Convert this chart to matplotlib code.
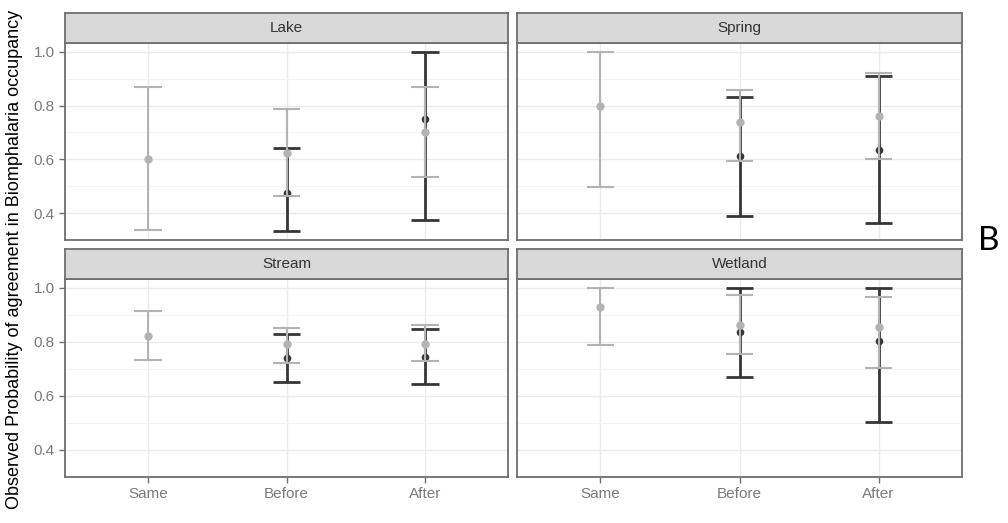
import numpy as np
import matplotlib.pyplot as plt

plt.rcParams['font.family'] = ['Liberation Sans', 'DejaVu Sans']

# Data
habitats = ['Lake', 'Spring', 'Stream', 'Wetland']
timing = ['Same', 'Before', 'After']

# light series: mean, lower, upper per timing
light_mean = {'Lake': [0.602, 0.623, 0.700], 'Spring': [0.800, 0.739, 0.762],
              'Stream': [0.822, 0.794, 0.794], 'Wetland': [0.931, 0.863, 0.855]}
light_lo = {'Lake': [0.338, 0.462, 0.534], 'Spring': [0.499, 0.595, 0.602],
            'Stream': [0.733, 0.723, 0.730], 'Wetland': [0.787, 0.754, 0.705]}
light_hi = {'Lake': [0.868, 0.787, 0.868], 'Spring': [1.000, 0.858, 0.923],
            'Stream': [0.915, 0.852, 0.863], 'Wetland': [1.000, 0.975, 0.965]}

# dark series: no estimate for "Same"
dark_mean = {'Lake': [np.nan, 0.475, 0.751], 'Spring': [np.nan, 0.613, 0.635],
             'Stream': [np.nan, 0.740, 0.746], 'Wetland': [np.nan, 0.835, 0.802]}
dark_lo = {'Lake': [np.nan, 0.334, 0.376], 'Spring': [np.nan, 0.390, 0.363],
           'Stream': [np.nan, 0.651, 0.645], 'Wetland': [np.nan, 0.670, 0.505]}
dark_hi = {'Lake': [np.nan, 0.644, 1.000], 'Spring': [np.nan, 0.833, 0.909],
           'Stream': [np.nan, 0.828, 0.848], 'Wetland': [np.nan, 1.000, 1.000]}

yticks = [0.4, 0.6, 0.8, 1.0]

LIGHT = '#b3b3b3'
DARK = '#363636'
BORDER = '#6e6e6e'

W, H = 1008, 523
fig = plt.figure(figsize=(W / 100, H / 100), dpi=100)

# panel boxes in pixels: left, right, strip top, plot top, plot bottom
cols = [(65, 508), (517, 962)]
rows = [(13, 43, 240), (249, 279, 477)]

x = np.arange(1, len(timing) + 1)


def errbar(ax, xs, lo, hi, mean, color, lw, ms, z):
    lo, hi, mean = np.array(lo), np.array(hi), np.array(mean)
    ok = ~np.isnan(mean)
    ax.vlines(xs[ok], lo[ok], hi[ok], color=color, lw=lw, zorder=z)
    ax.hlines(lo[ok], xs[ok] - 0.1, xs[ok] + 0.1, color=color, lw=lw, zorder=z)
    ax.hlines(hi[ok], xs[ok] - 0.1, xs[ok] + 0.1, color=color, lw=lw, zorder=z)
    ax.plot(xs[ok], mean[ok], 'o', color=color, ms=ms, mec='none', zorder=z + 0.5)


for i, site in enumerate(habitats):
    r, c = divmod(i, 2)
    left, right = cols[c]
    stop, ptop, pbot = rows[r]
    ax = fig.add_axes([left / W, 1 - pbot / H, (right - left) / W, (pbot - ptop) / H])

    ax.set_xlim(0.4, 3.6)
    ax.set_ylim(0.301, 1.033)
    ax.set_xticks(x)
    ax.set_yticks(yticks)
    ax.set_yticks([0.3, 0.5, 0.7, 0.9], minor=True)
    ax.set_xticks([], minor=True)
    ax.grid(True, which='major', color='#ebebeb', lw=1.0, zorder=0)
    ax.grid(True, which='minor', axis='y', color='#f3f3f3', lw=0.6, zorder=0)
    ax.set_axisbelow(True)

    errbar(ax, x, dark_lo[site], dark_hi[site], dark_mean[site], DARK, 2.0, 5.5, 2)
    errbar(ax, x, light_lo[site], light_hi[site], light_mean[site], LIGHT, 1.5, 6, 3)

    for s in ax.spines.values():
        s.set_color(BORDER)
        s.set_linewidth(1.3)
    ax.tick_params(which='major', length=4, width=1, color=BORDER, labelcolor='#7a7a7a',
                   labelsize=11)
    ax.tick_params(which='minor', length=0)

    if c == 0:
        ax.set_yticklabels([f'{v:.1f}' for v in yticks])
    else:
        ax.tick_params(axis='y', length=0, labelleft=False)
    if r == 1:
        ax.set_xticklabels(timing)
    else:
        ax.tick_params(axis='x', length=0, labelbottom=False)

    # facet strip
    sax = fig.add_axes([left / W, 1 - ptop / H, (right - left) / W, (ptop - stop) / H])
    sax.set_xticks([])
    sax.set_yticks([])
    sax.set_facecolor('#d9d9d9')
    for s in sax.spines.values():
        s.set_color(BORDER)
        s.set_linewidth(1.3)
    sax.text(0.5, 0.5, site, ha='center', va='center', color='#333333', fontsize=11,
             transform=sax.transAxes)

fig.text(15 / W, 1 - 259 / H, 'Observed Probability of agreement in Biomphalaria occupancy',
         rotation=90, ha='center', va='center', fontsize=13, color='black')
fig.text(989 / W, 1 - 241 / H, 'B', ha='center', va='center', fontsize=24,
         family=['Lato', 'DejaVu Sans'], color='black')

fig.savefig('out.png', dpi=100)
